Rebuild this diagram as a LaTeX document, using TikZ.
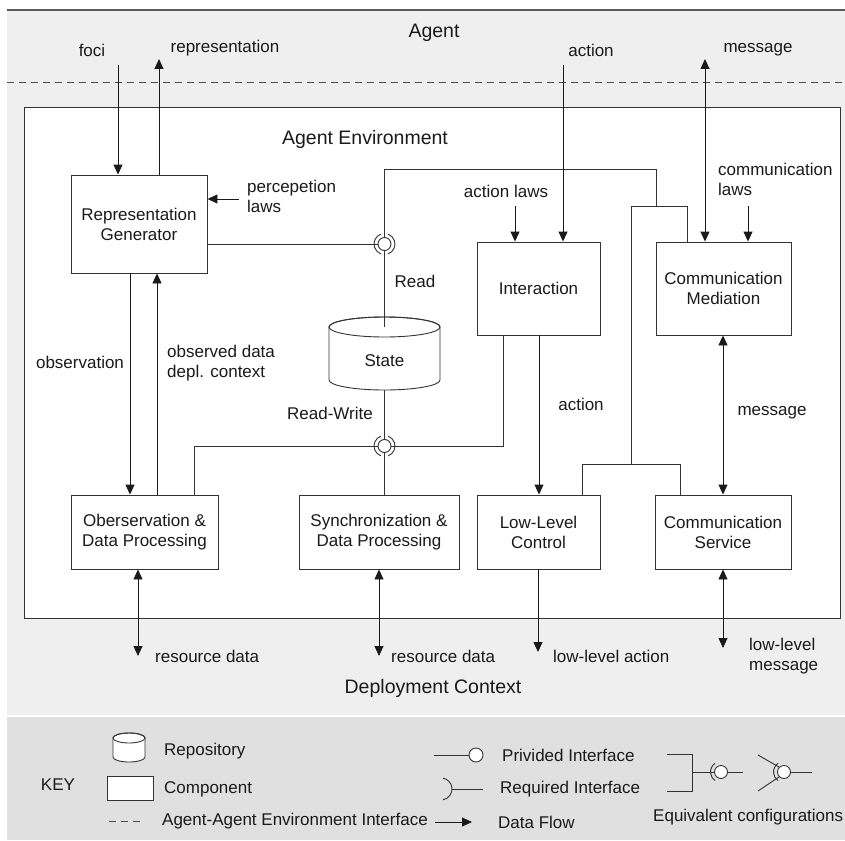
\documentclass[tikz,border=0pt]{standalone}
\usepackage{fontspec}
\setmainfont{Liberation Sans}
\usetikzlibrary{arrows.meta,calc}
\definecolor{bgA}{HTML}{EFEFEF}
\definecolor{bgK}{HTML}{E0E0E0}
\definecolor{edge}{HTML}{333333}
\definecolor{ink}{HTML}{1A1A1A}
\begin{document}
\begin{tikzpicture}[x=1pt,y=-1pt,
  every node/.style={font=\fontsize{17}{20}\selectfont, inner sep=0pt, text=ink},
  comp/.style={draw=edge, fill=white, line width=0.9pt, align=center},
  ttl/.style={font=\fontsize{19.5}{23}\selectfont},
  flow/.style={line width=0.9pt, draw=ink, -{Triangle[length=10pt,width=9pt]}},
  bflow/.style={line width=0.9pt, draw=ink, {Triangle[length=10pt,width=9pt]}-{Triangle[length=10pt,width=9pt]}},
  wire/.style={line width=0.9pt, draw=black!80},
  iface/.style={circle, draw=black!80, fill=white, line width=0.9pt, minimum size=13pt},
  lbl/.style={anchor=west, align=left},
  dashln/.style={line width=0.9pt, draw=black!70, dash pattern=on 7pt off 5pt},
]
\useasboundingbox (0,0) rectangle (845,840);
% backgrounds
\fill[bgA] (7,10) rectangle (845,840);
\fill[bgK] (7,716) rectangle (845,840);
\draw[white, line width=1.5pt] (7,716) -- (845,716);
\draw[black!65, line width=2pt] (7,10) -- (845,10);
\draw[dashln] (7,82) -- (845,82);
\node[comp, minimum width=816pt, minimum height=511pt] (env) at (432,362.5) {};

% titles
\node[ttl] (agent) at (434,33) {Agent};
\node[ttl] (envt) at (365,139) {Agent Environment};
\node[ttl] (dep) at (433,688) {Deployment Context};

% components
\node[comp, minimum width=136pt, minimum height=98pt] (repgen) at (139,224) {Representation\\Generator};
\node[comp, minimum width=123pt, minimum height=93pt] (inter) at (538.5,288.5) {Interaction};
\node[comp, minimum width=135pt, minimum height=93pt] (cmed) at (723.5,288.5) {Communication\\Mediation};
\node[comp, minimum width=147pt, minimum height=74pt] (obs) at (144.5,532) {Oberservation \&\\Data Processing};
\node[comp, minimum width=160pt, minimum height=74pt] (sync) at (379,532) {Synchronization \&\\Data Processing};
\node[comp, minimum width=123pt, minimum height=74pt] (llc) at (538.5,532) {Low-Level\\Control};
\node[comp, minimum width=136pt, minimum height=74pt] (csvc) at (723,532) {Communication\\Service};

% State repository
\draw[edge, fill=white, line width=0.9pt] (329,327) -- (329,380) arc[start angle=180,end angle=360,x radius=55.5pt,y radius=10pt] -- (440,327) arc[start angle=0,end angle=180,x radius=55.5pt,y radius=10pt];
\draw[edge, line width=0.9pt] (384.5,327) ellipse[x radius=55.5pt, y radius=10pt];
\node (state) at (384.5,361) {State};
\coordinate (stateT) at (384.5,327);
\coordinate (stateB) at (384.5,390);

% interfaces
\node[iface] (ifR) at (384.5,244) {};
\draw[wire] ([shift={(110:10.5pt)}]ifR.center) arc[start angle=110,end angle=250,radius=10.5pt];
\draw[wire] ([shift={(-70:10.5pt)}]ifR.center) arc[start angle=-70,end angle=70,radius=10.5pt];
\node[iface] (ifRW) at (384.5,446) {};
\draw[wire] ([shift={(110:10.5pt)}]ifRW.center) arc[start angle=110,end angle=250,radius=10.5pt];
\draw[wire] ([shift={(-70:10.5pt)}]ifRW.center) arc[start angle=-70,end angle=70,radius=10.5pt];

% wires around Read interface
\draw[wire] (repgen.east |- ifR) -- (ifR.west);
\coordinate (j1) at (656,169);
\coordinate (j2) at (656,206);
\coordinate (jL) at (631,206);
\coordinate (jR) at (687,206);
\draw[wire] (ifR.north) |- (j1) -- (j2);
\draw[wire] (jL) -- (jR);
\draw[wire] (jR) -- (jR |- cmed.north);
\coordinate (k) at (631,464);
\coordinate (kL) at (582,464);
\coordinate (kR) at (680,464);
\draw[wire] (jL) -- (k);
\draw[wire] (kL) -- (kR);
\draw[wire] (kL) -- (kL |- llc.north);
\draw[wire] (kR) -- (kR |- csvc.north);
\draw[wire] (ifR.south) -- (stateT);

% wires around Read-Write interface
\draw[wire] (stateB) -- (ifRW.north);
\draw[wire] (ifRW.south) -- (ifRW.south |- sync.north);
\coordinate (oL) at (194,446);
\draw[wire] (ifRW.west) -- (oL) -- (oL |- obs.north);
\coordinate (oR) at (503,446);
\draw[wire] (ifRW.east) -- (oR) -- (oR |- inter.south);

% data flows
\coordinate (fociS) at (118,65);
\draw[flow] (fociS) -- (fociS |- repgen.north);
\coordinate (reprE) at (159,59);
\draw[flow] (reprE |- repgen.north) -- (reprE);
\coordinate (percS) at (239,199);
\draw[flow] (percS) -- (percS -| repgen.east);
\coordinate (obsX) at (130,400);
\draw[flow] (obsX |- repgen.south) -- (obsX |- obs.north);
\coordinate (odX) at (157,400);
\draw[flow] (odX |- obs.north) -- (odX |- repgen.south);
\coordinate (alS) at (515,206);
\draw[flow] (alS) -- (alS |- inter.north);
\coordinate (actS) at (563,65);
\draw[flow] (actS) -- (actS |- inter.north);
\coordinate (msgE) at (705,59);
\draw[bflow] (msgE) -- (msgE |- cmed.north);
\coordinate (clS) at (748,206);
\draw[flow] (clS) -- (clS |- cmed.north);
\coordinate (a2) at (539,400);
\draw[flow] (a2 |- inter.south) -- (a2 |- llc.north);
\coordinate (m2) at (723,400);
\draw[bflow] (m2 |- csvc.north) -- (m2 |- cmed.south);
\coordinate (rd1) at (138,656);
\draw[bflow] (rd1 |- obs.south) -- (rd1);
\coordinate (rd2) at (379,656);
\draw[bflow] (rd2 |- sync.south) -- (rd2);
\coordinate (lla) at (538,652);
\draw[flow] (lla |- llc.south) -- (lla);
\coordinate (llm) at (723,648);
\draw[bflow] (llm |- csvc.south) -- (llm);

% labels
\node (fociL) at (92,50) {foci};
\node (reprL) at (225,48) {representation};
\node (actL) at (591,50) {action};
\node (msgL) at (758,50) {message};
\node[lbl] (percL) at (247,196) {percepetion\\laws};
\node (alL) at (506,191) {action laws};
\node[lbl] (clL) at (718,179) {communication\\laws};
\node (readL) at (415,281) {Read};
\node (obsL) at (80,362) {observation};
\node[lbl] (odL) at (167,363) {observed data\\depl. context};
\node (rwL) at (330,413) {Read-Write};
\node (act2L) at (581,404) {action};
\node (msg2L) at (772,413) {message};
\node[lbl] (rd1L) at (155,656) {resource data};
\node[lbl] (rd2L) at (391,656) {resource data};
\node[lbl] (llaL) at (553,656) {low-level action};
\node[lbl] (llmL) at (749,656) {low-level\\message};

% legend
\node (key) at (58,785) {KEY};
\draw[edge, fill=white, line width=0.9pt] (113,738) -- (113,757) arc[start angle=180,end angle=360,x radius=16pt,y radius=5pt] -- (145,738) arc[start angle=0,end angle=180,x radius=16pt,y radius=5pt];
\draw[edge, line width=0.9pt] (129,738) ellipse[x radius=16pt, y radius=5pt];
\node[lbl] (repL) at (164,751) {Repository};
\node[comp, minimum width=46pt, minimum height=24pt] (compK) at (130,788) {};
\node[lbl] (compL) at (164,789) {Component};
\coordinate (dkS) at (109,821);
\coordinate (dkE) at (143,821);
\draw[dashln] (dkS) -- (dkE);
\node[lbl] (aaL) at (162,821) {Agent-Agent Environment Interface};
\coordinate (dfS) at (435,822);
\coordinate (dfE) at (472,822);
\draw[flow] (dfS) -- (dfE);
\node[lbl] (dfL) at (498,822) {Data Flow};
\node[iface, minimum size=14pt] (provK) at (476,755) {};
\coordinate (provS) at (434,755);
\draw[wire] (provS) -- (provK.west);
\node[lbl] (provL) at (502,755) {Privided Interface};
\coordinate (reqC) at (441,789);
\draw[wire] ([shift={(-80:11pt)}]reqC) arc[start angle=-80,end angle=80,radius=11pt];
\coordinate (reqA) at (452,789);
\coordinate (reqB) at (483,789);
\draw[wire] (reqA) -- (reqB);
\node[lbl] (reqL) at (500,789) {Required Interface};
% equivalent configurations
\node[iface] (eq1) at (721,772) {};
\draw[wire] ([shift={(125:10.5pt)}]eq1.center) arc[start angle=125,end angle=235,radius=10.5pt];
\coordinate (b1) at (667,754);
\coordinate (b2) at (692,754);
\coordinate (b3) at (692,791);
\coordinate (b4) at (667,791);
\coordinate (bm) at (692,772);
\coordinate (eq1E) at (743,772);
\draw[wire] (b1) -- (b2) -- (b3) -- (b4);
\draw[wire] (bm) -- (eq1.west);
\draw[wire] (eq1.east) -- (eq1E);
\node[iface] (eq2) at (784,772) {};
\draw[wire] ([shift={(125:10.5pt)}]eq2.center) arc[start angle=125,end angle=235,radius=10.5pt];
\coordinate (c1) at (758,755);
\coordinate (c2) at (758,791);
\coordinate (eq2E) at (812,772);
\draw[wire] (c1) -- (eq2.north west);
\draw[wire] (c2) -- (eq2.south west);
\draw[wire] (eq2.east) -- (eq2E);
\node[lbl] (eqL) at (653,817) {Equivalent configurations};
\end{tikzpicture}
\end{document}
